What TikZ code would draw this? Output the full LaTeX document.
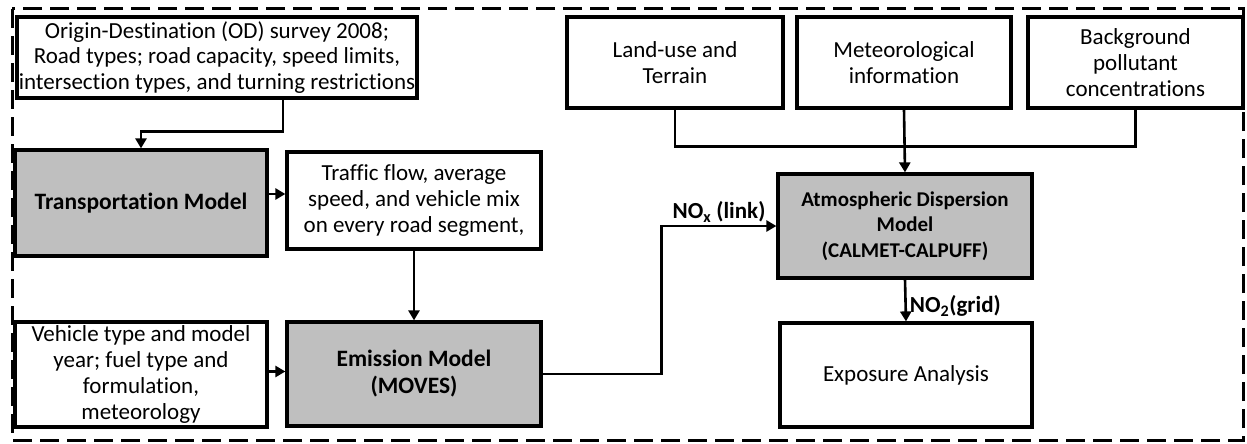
\documentclass[tikz,border=0pt]{standalone}
\usepackage{fontspec}
\setmainfont[Ligatures=NoCommon]{Carlito}
\usetikzlibrary{arrows.meta}
\begin{document}
\begin{tikzpicture}[x=1pt,y=-1pt,
  box/.style={draw, line width=3.2pt, inner sep=0pt, align=center, anchor=center,
    font=\fontsize{23}{25.8}\selectfont},
  gbox/.style={box, fill=gray!50, font=\fontsize{23.5}{27}\selectfont\bfseries},
  arr/.style={line width=2.6pt, -{Triangle[length=10pt,width=11pt]}},
  ln/.style={line width=2.6pt},
  lbl/.style={font=\fontsize{23}{26}\selectfont\bfseries, inner sep=2pt}]
\useasboundingbox (0,0) rectangle (1247,444);
\draw[line width=3pt, dash pattern=on 19pt off 8pt] (12,9) rectangle (1243,440);

\node[box, minimum width=400pt, minimum height=81pt] (od) at (217,57.5)
  {Origin-Destination (OD) survey 2008;\\Road types; road capacity, speed limits,\\intersection types, and turning restrictions};
\node[gbox, minimum width=252pt, minimum height=106pt] (trans) at (141,203) {Transportation Model};
\node[box, minimum width=254pt, minimum height=97pt] (traffic) at (414,200.5)
  {Traffic flow, average\\speed, and vehicle mix\\on every road segment,};
\node[box, minimum width=252pt, minimum height=105pt] (veh) at (141,374.5)
  {Vehicle type and model\\year; fuel type and\\formulation,\\meteorology};
\node[gbox, minimum width=254pt, minimum height=104pt] (emis) at (414,374) {Emission Model\\(MOVES)};
\node[box, minimum width=216pt, minimum height=91pt] (land) at (675,62.5) {Land-use and\\Terrain};
\node[box, minimum width=214pt, minimum height=91pt] (met) at (904,62.5) {Meteorological\\information};
\node[box, minimum width=215pt, minimum height=91pt] (bg) at (1135.5,62.5) {Background\\pollutant\\concentrations};
\node[gbox, minimum width=254pt, minimum height=104pt, font=\fontsize{21}{25.5}\selectfont\bfseries] (atm) at (905,226)
  {Atmospheric Dispersion\\Model\\(CALMET-CALPUFF)};
\node[box, minimum width=252pt, minimum height=104pt] (exp) at (906,375) {Exposure Analysis};

\draw[arr] ([xshift=66pt]od.south) -- ++(0,32) -| (trans.north);
\draw[arr] ([yshift=9pt]trans.east) -- ([yshift=9pt]trans.east -| traffic.west);
\draw[arr] (traffic.south) -- (emis.north);
\draw[arr] ([yshift=3pt]veh.east) -- ([yshift=3pt]veh.east -| emis.west);
\draw[arr] (emis.east) -- ++(119,0) |- (atm.west) node[lbl, pos=0.75, above] {NO\textsubscript{x} (link)};
\draw[arr] (atm.south) -- (exp.north) node[lbl, pos=0.64, right, inner sep=3pt] {NO\textsubscript{2}(grid)};
\draw[ln] (land.south) -- ++(0,37) -| (bg.south);
\draw[arr] (met.south) -- (atm.north);
\end{tikzpicture}
\end{document}
